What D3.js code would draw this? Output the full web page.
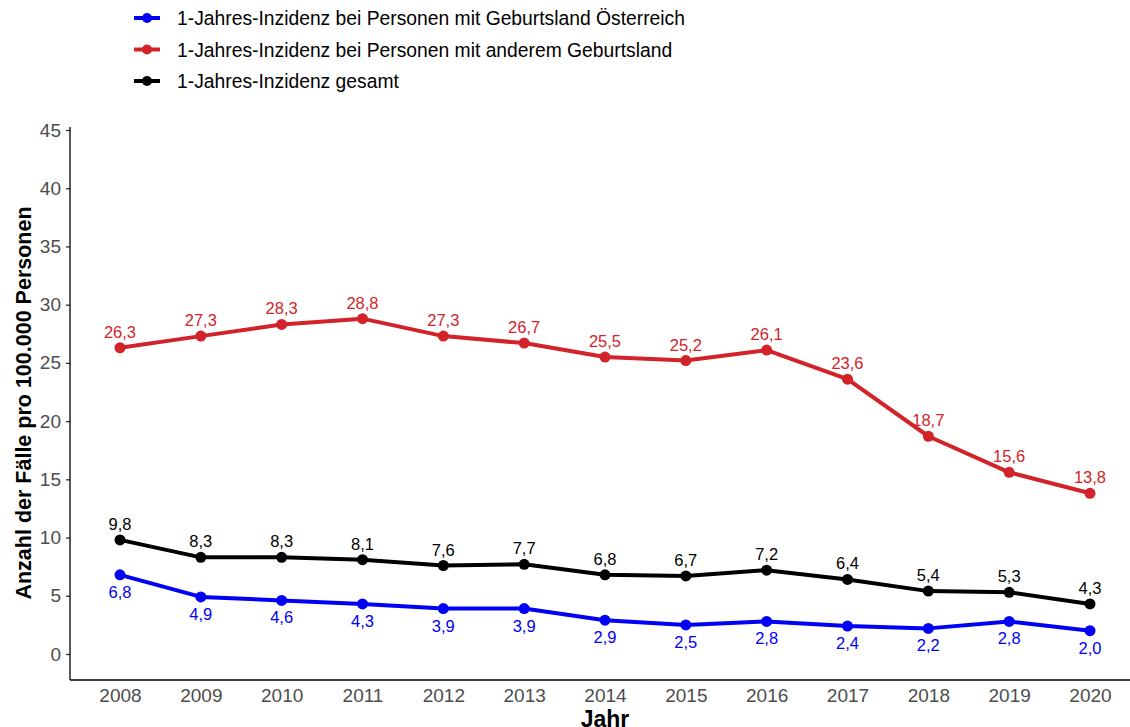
<!DOCTYPE html>
<html>
<head>
<meta charset="utf-8">
<script src="https://cdn.jsdelivr.net/npm/d3@7"></script>
<style>
  body { margin: 0; background: #fff; }
  svg text { font-family: "Liberation Sans", Arial, sans-serif; }
</style>
</head>
<body>
<svg id="chart" width="1130" height="727"></svg>
<script>
const years = [2008, 2009, 2010, 2011, 2012, 2013, 2014, 2015, 2016, 2017, 2018, 2019, 2020];
const oesterreich = [6.8, 4.9, 4.6, 4.3, 3.9, 3.9, 2.9, 2.5, 2.8, 2.4, 2.2, 2.8, 2.0];
const anderes = [26.3, 27.3, 28.3, 28.8, 27.3, 26.7, 25.5, 25.2, 26.1, 23.6, 18.7, 15.6, 13.8];
const gesamt = [9.8, 8.3, 8.3, 8.1, 7.6, 7.7, 6.8, 6.7, 7.2, 6.4, 5.4, 5.3, 4.3];
const yTicks = [0, 5, 10, 15, 20, 25, 30, 35, 40, 45];
const seriesNames = [
  "1-Jahres-Inzidenz bei Personen mit Geburtsland Österreich",
  "1-Jahres-Inzidenz bei Personen mit anderem Geburtsland",
  "1-Jahres-Inzidenz gesamt"
];

const series = [
  {name: seriesNames[0], values: oesterreich, color: "#0000f5", below: true},
  {name: seriesNames[1], values: anderes, color: "#d2232a", below: false},
  {name: seriesNames[2], values: gesamt, color: "#000000", below: false}
];

const svg = d3.select("#chart");
const fmt = v => d3.format(".1f")(v).replace(".", ",");

const x = d3.scalePoint().domain(years).range([120, 1090]);
const y = d3.scaleLinear().domain([0, 45]).range([654, 130]);

// axes
const yAxis = svg.append("g").attr("transform", "translate(70,0)")
  .call(d3.axisLeft(y).tickValues(yTicks).tickSize(4).tickPadding(5));
yAxis.select(".domain").remove();
yAxis.append("line").attr("x1", 0).attr("x2", 0).attr("y1", 127).attr("y2", 680)
  .attr("stroke", "#000").attr("stroke-width", 1.3);
yAxis.selectAll(".tick line").attr("stroke", "#333").attr("stroke-width", 1.3);
yAxis.selectAll(".tick text").attr("fill", "#4d4d4d").style("font-size", "19px");

const xAxis = svg.append("g").attr("transform", "translate(0,680)")
  .call(d3.axisBottom(x).tickSize(0).tickPadding(9));
xAxis.select(".domain").remove();
xAxis.append("line").attr("x1", 70).attr("x2", 1130).attr("y1", 0).attr("y2", 0)
  .attr("stroke", "#000").attr("stroke-width", 1.3);
xAxis.selectAll(".tick text").attr("fill", "#4d4d4d").style("font-size", "19px");

svg.append("text").attr("x", 605).attr("y", 727).attr("text-anchor", "middle")
  .style("font-size", "23px").style("font-weight", "bold").text("Jahr");
svg.append("text").attr("transform", "translate(31,403) rotate(-90)").attr("text-anchor", "middle")
  .style("font-size", "21.5px").style("font-weight", "bold").text("Anzahl der Fälle pro 100.000 Personen");

// lines
const line = d3.line().x((d, i) => x(years[i])).y(d => y(d));
series.forEach(s => {
  const g = svg.append("g");
  g.append("path").datum(s.values).attr("d", line)
    .attr("fill", "none").attr("stroke", s.color).attr("stroke-width", 4)
    .attr("stroke-linejoin", "round");
  g.selectAll("circle").data(s.values).enter().append("circle")
    .attr("cx", (d, i) => x(years[i])).attr("cy", d => y(d)).attr("r", 5.5)
    .attr("fill", s.color);
  g.selectAll("text").data(s.values).enter().append("text")
    .attr("x", (d, i) => x(years[i]))
    .attr("y", d => s.below ? y(d) + 23 : y(d) - 10)
    .attr("text-anchor", "middle").attr("fill", s.color)
    .style("font-size", "16.5px").text(d => fmt(d));
});

// legend
const legend = svg.append("g");
series.forEach((s, i) => {
  const ly = 18 + i * 31.5;
  legend.append("line").attr("x1", 134).attr("x2", 160).attr("y1", ly).attr("y2", ly)
    .attr("stroke", s.color).attr("stroke-width", 4);
  legend.append("circle").attr("cx", 147).attr("cy", ly).attr("r", 5).attr("fill", s.color);
  legend.append("text").attr("x", 177).attr("y", ly + 7).style("font-size", "19.3px")
    .attr("fill", "#000").text(s.name);
});
</script>
</body>
</html>
